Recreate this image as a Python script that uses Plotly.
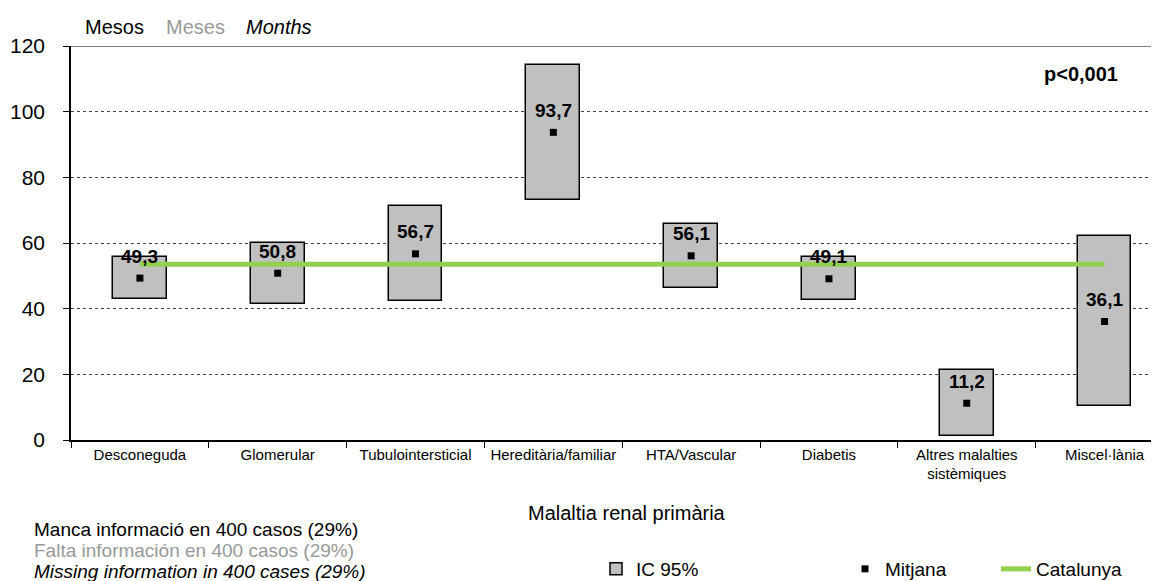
"""Temps mitjà (mesos) per malaltia renal primària, IC 95%."""

import plotly.graph_objects as go

FONT = "Arial, Liberation Sans, sans-serif"

categories = [
    "Desconeguda",
    "Glomerular",
    "Tubulointersticial",
    "Hereditària/familiar",
    "HTA/Vascular",
    "Diabetis",
    "Altres malalties<br>sistèmiques",
    "Miscel·lània",
]
ci_low = [42.9, 41.5, 42.3, 73.1, 46.4, 42.6, 1.1, 10.4]
ci_high = [55.8, 60.1, 71.2, 114.3, 65.8, 55.6, 21.4, 62.1]
means = [49.3, 50.8, 56.7, 93.7, 56.1, 49.1, 11.2, 36.1]
catalunya = 53.5
y_ticks = [0, 20, 40, 60, 80, 100, 120]

# plot area in pixels: x 63..1159, y 38..432
left, top, bottom, width = 63, 38, 432, 1096


def px_x(x):
    return (x - left) / width


def px_y(y):
    return (bottom - y) / (bottom - top)


fig = go.Figure()
fig.add_trace(
    go.Bar(
        x=categories,
        y=[h - l for h, l in zip(ci_high, ci_low)],
        base=ci_low,
        width=0.39,
        marker=dict(color="#C0C0C0", line=dict(color="black", width=1.5)),
        name="IC 95%",
        legend="legend",
        hoverinfo="skip",
    )
)
fig.add_trace(
    go.Scatter(
        x=[categories[0], categories[-1]],
        y=[catalunya, catalunya],
        mode="lines",
        line=dict(color="#92D050", width=5),
        name="Catalunya",
        legend="legend3",
    )
)
fig.add_trace(
    go.Scatter(
        x=categories,
        y=means,
        mode="markers",
        marker=dict(symbol="square", size=7, color="black"),
        name="Mitjana",
        legend="legend2",
    )
)

for cat, m in zip(categories, means):
    fig.add_annotation(
        x=cat, y=m, text=f"<b>{m:.1f}</b>".replace(".", ","),
        showarrow=False, yshift=22, font=dict(size=19, color="black", family=FONT),
    )

top_words = [("Mesos", "black", False, 75), ("Meses", "#999999", False, 156), ("Months", "black", True, 236)]
for word, color, italic, xpos in top_words:
    fig.add_annotation(
        xref="paper", yref="paper", x=px_x(xpos), y=px_y(19), xanchor="left", yanchor="middle",
        text=f"<i>{word}</i>" if italic else word, showarrow=False,
        font=dict(size=20, color=color, family=FONT),
    )

notes = [
    ("Manca informació en 400 casos (29%)", "black", 521),
    ("Falta información en 400 casos (29%)", "#999999", 542),
    ("<i>Missing information in 400 cases (29%)</i>", "black", 563),
]
for text, color, ypos in notes:
    fig.add_annotation(
        xref="paper", yref="paper", x=px_x(24), y=px_y(ypos), xanchor="left", yanchor="middle",
        text=text, showarrow=False, font=dict(size=19, color=color, family=FONT),
    )

fig.add_annotation(
    xref="paper", yref="paper", x=px_x(619), y=px_y(505), xanchor="center", yanchor="middle",
    text="Malaltia renal primària", showarrow=False, font=dict(size=20, color="black", family=FONT),
)
fig.add_annotation(
    xref="paper", yref="paper", x=px_x(1073), y=px_y(66), xanchor="center", yanchor="middle",
    text="<b>p<0,001</b>", showarrow=False, font=dict(size=20, color="black", family=FONT),
)

legend_common = dict(
    orientation="h", yref="paper", y=px_y(561), yanchor="middle", xanchor="left",
    bgcolor="rgba(0,0,0,0)", font=dict(size=19, color="black", family=FONT),
)

fig.update_layout(
    width=1159,
    height=581,
    margin=dict(l=left, r=0, t=top, b=581 - bottom, autoexpand=False),
    plot_bgcolor="white",
    paper_bgcolor="white",
    font=dict(family=FONT, color="black"),
    showlegend=True,
    legend=dict(x=px_x(588), **legend_common),
    legend2=dict(x=px_x(837), **legend_common),
    legend3=dict(x=px_x(988), **legend_common),
    bargap=0,
)
fig.update_xaxes(
    range=[-0.5, 7.453],
    tickson="boundaries",
    ticks="outside",
    ticklen=6,
    tickcolor="black",
    showline=True,
    linecolor="black",
    linewidth=1.5,
    mirror=False,
    showgrid=False,
    tickfont=dict(size=15, family=FONT, color="black"),
)
fig.update_yaxes(
    range=[0, 120],
    tickvals=y_ticks,
    ticks="outside",
    ticklen=6,
    tickcolor="black",
    showline=True,
    linecolor="black",
    linewidth=1.5,
    showgrid=True,
    gridcolor="#444444",
    griddash="dot",
    gridwidth=1,
    zeroline=False,
    ticklabelstandoff=14,
    tickfont=dict(size=21, family=FONT, color="black"),
)
# darker top border like the original frame line at 120
fig.add_shape(
    type="line", xref="paper", yref="y", x0=0, x1=1, y0=120, y1=120,
    line=dict(color="#555555", width=1.5),
)

fig.write_html("out.html")
